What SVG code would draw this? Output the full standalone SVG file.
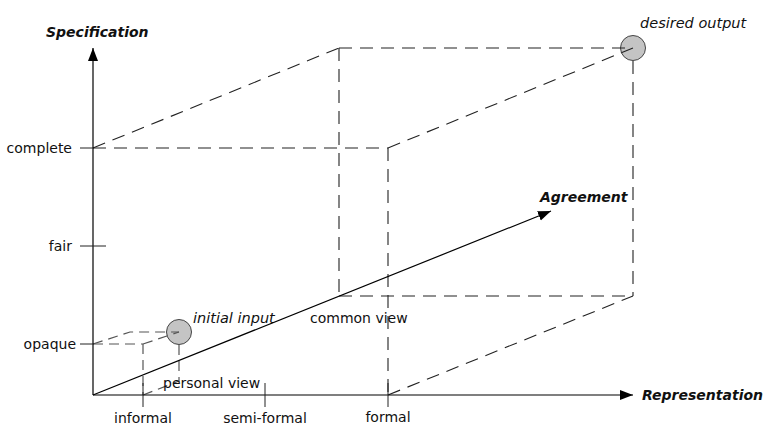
<svg xmlns="http://www.w3.org/2000/svg" width="771" height="425" viewBox="0 0 771 425">
<style>
text{font-family:"DejaVu Sans","Liberation Sans",sans-serif;fill:#111}
.lbl{font-size:14px}
.it{font-size:14.5px;font-style:italic}
.ax{font-size:14px;font-weight:bold;font-style:italic}
.axis{stroke:#000;stroke-width:1.2;fill:none}
.tick{stroke:#222;stroke-width:1;fill:none}
.big{stroke:#222;stroke-width:1.1;fill:none;stroke-dasharray:13 8}
.small{stroke:#555;stroke-width:1.2;fill:none;stroke-dasharray:10 6}
.pt{fill:#c4c4c4;stroke:#444;stroke-width:1}
</style>
<defs>
<marker id="arr" markerUnits="userSpaceOnUse" markerWidth="14" markerHeight="11" refX="13" refY="5" orient="auto">
<path d="M0,0 L13,5 L0,10 z" fill="#000"/>
</marker>
</defs>
<rect width="771" height="425" fill="#fff"/>
<g id="points">
<g id="desired-output">
<circle class="pt" cx="633" cy="48" r="12.5"/>
<text class="it" x="640" y="28">desired output</text>
</g>
<g id="initial-input">
<circle class="pt" cx="179" cy="332" r="12.5"/>
<text class="it" x="193" y="323">initial input</text>
</g>
</g>
<g id="connectors">
<g id="big-box">
<line class="big" x1="93" y1="148" x2="388" y2="148"/>
<line class="big" x1="93" y1="148" x2="339" y2="48"/>
<line class="big" x1="339" y1="48" x2="633" y2="48"/>
<line class="big" x1="388" y1="148" x2="633" y2="48"/>
<line class="big" x1="339" y1="48" x2="339" y2="296"/>
<line class="big" x1="388" y1="148" x2="388" y2="395"/>
<line class="big" x1="633" y1="61" x2="633" y2="296"/>
<line class="big" x1="339" y1="296" x2="633" y2="296"/>
<line class="big" x1="388" y1="395" x2="633" y2="296"/>
</g>
<g id="small-box">
<line class="small" x1="93" y1="344" x2="143" y2="344"/>
<polyline class="small" points="93,344 130,332 179,332"/>
<line class="small" x1="143" y1="344" x2="179" y2="332"/>
<line class="small" x1="143" y1="344" x2="143" y2="395"/>
<line class="small" x1="179" y1="345" x2="179" y2="382"/>
<line class="small" x1="143" y1="395" x2="179" y2="381"/>
</g>
<g id="axes">
<line class="axis" x1="93" y1="395" x2="93" y2="48" marker-end="url(#arr)"/>
<line class="axis" x1="93" y1="395" x2="633" y2="395" marker-end="url(#arr)"/>
<line class="axis" stroke-width="1" x1="93" y1="395" x2="551" y2="211" marker-end="url(#arr)"/>
</g>
<g id="ticks">
<line class="tick" x1="80" y1="148" x2="93" y2="148"/>
<line class="tick" x1="80" y1="246" x2="106" y2="246"/>
<line class="tick" x1="80" y1="344" x2="93" y2="344"/>
<line class="tick" x1="143" y1="383" x2="143" y2="407"/>
<line class="tick" x1="265" y1="383" x2="265" y2="407"/>
<line class="tick" x1="388" y1="383" x2="388" y2="407"/>
</g>
</g>
<g id="axis-labels">
<text class="ax" x="46" y="37">Specification</text>
<text class="ax" x="540" y="202">Agreement</text>
<text class="ax" x="642" y="400">Representation</text>
</g>
<g id="scale-labels">
<text class="lbl" x="72" y="153" text-anchor="end">complete</text>
<text class="lbl" x="72" y="251" text-anchor="end">fair</text>
<text class="lbl" x="76" y="349" text-anchor="end">opaque</text>
<text class="lbl" x="143" y="423" text-anchor="middle">informal</text>
<text class="lbl" x="265" y="423" text-anchor="middle">semi-formal</text>
<text class="lbl" x="388" y="422" text-anchor="middle">formal</text>
</g>
<g id="view-labels">
<text class="lbl" x="163" y="388">personal view</text>
<text class="lbl" x="310" y="323">common view</text>
</g>
</svg>
